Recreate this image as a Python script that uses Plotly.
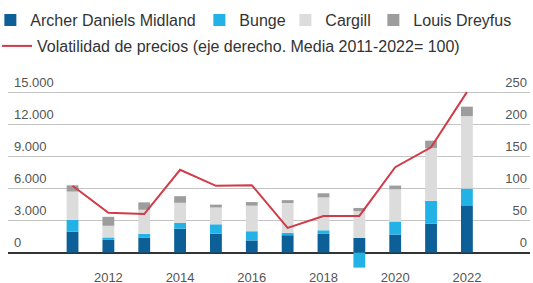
import plotly.graph_objects as go

years = list(range(2011, 2023))
adm = [1950, 1190, 1400, 2230, 1760, 1130, 1620, 1780, 1370, 1680, 2690, 4350]
bunge = [1100, 220, 350, 530, 880, 860, 220, 300, -1410, 1220, 2140, 1630]
cargill = [2650, 1090, 2250, 1890, 1570, 2390, 2790, 3070, 2500, 3010, 4950, 6770]
dreyfus = [580, 840, 690, 620, 270, 340, 270, 390, 300, 350, 680, 890]
volatility = [104, 62, 60, 129, 104, 105, 38.5, 57, 57, 133, 164, 250]

series_names = ["Archer Daniels Midland", "Bunge", "Cargill", "Louis Dreyfus"]
line_name = "Volatilidad de precios (eje derecho. Media 2011-2022= 100)"
unit_label = "Millones de euros"

left_ticks = [0, 3000, 6000, 9000, 12000, 15000]
left_tick_text = ["0", "3.000", "6.000", "9.000", "12.000", "15.000"]
right_ticks = [0, 50, 100, 150, 200, 250]
right_tick_text = ["0", "50", "100", "150", "200", "250"]
x_ticks = [2012, 2014, 2016, 2018, 2020, 2022]
x_tick_text = ["2012", "2014", "2016", "2018", "2020", "2022"]

colors = ["#0d5f97", "#22b2e6", "#dcdcdc", "#9d9d9d"]
line_color = "#d13a48"
FONT = "Liberation Sans"

ymin, ymax = -1446, 18470
ratio = 15000 / 250
top, bottom = 55.0, 14.5
ph = 283 - top - bottom


def py(px):
    return (283 - bottom - px) / ph


# one legend per entry so each can sit where the reference puts it
legend_x = [-0.0338, 0.3666, 0.5313, 0.6999]
legend_ids = ["legend", "legend2", "legend3", "legend4"]

fig = go.Figure()
for name, vals, col, lid in zip(series_names, [adm, bunge, cargill, dreyfus], colors, legend_ids):
    fig.add_trace(go.Bar(x=years, y=vals, name=name, marker=dict(color=col, line=dict(width=0)),
                         width=0.33, legend=lid, showlegend=True))

fig.add_trace(go.Scatter(x=years, y=volatility, name=line_name, mode="lines",
                         line=dict(color=line_color, width=2), yaxis="y2", legend="legend5",
                         showlegend=True))

legend_common = dict(orientation="h", xanchor="left", yanchor="middle",
                     font=dict(size=16, color="#333"), itemwidth=30, bgcolor="rgba(0,0,0,0)")
legends = {}
for lid, lx in zip(legend_ids, legend_x):
    legends[lid] = dict(legend_common, x=lx, y=py(20))
legends["legend5"] = dict(legend_common, x=-0.021, y=py(46))

fig.update_layout(
    width=533, height=283,
    showlegend=True,
    margin=dict(l=8, r=3, t=top, b=bottom, autoexpand=False),
    paper_bgcolor="white", plot_bgcolor="white",
    barmode="relative",
    font=dict(family=FONT, size=14, color="#444"),
    xaxis=dict(range=[2009.2, 2023.76], tickvals=x_ticks, ticktext=x_tick_text,
               showgrid=False, zeroline=False, showline=False, ticks="",
               tickfont=dict(size=13, color="#555")),
    yaxis=dict(range=[ymin, ymax], tickvals=left_ticks, ticktext=left_tick_text,
               showgrid=True, gridcolor="#c4c4c4", gridwidth=1,
               zeroline=True, zerolinecolor="#333", zerolinewidth=1.5,
               ticks="", ticklabelposition="inside top", ticklabelshift=-1,
               ticklabelstandoff=3,
               tickfont=dict(size=13, color="#555"), showline=False),
    yaxis2=dict(range=[ymin / ratio, ymax / ratio], tickvals=right_ticks, ticktext=right_tick_text,
                overlaying="y", side="right", showgrid=False, zeroline=False,
                ticks="", ticklabelposition="inside top", ticklabelshift=-1,
                tickfont=dict(size=13, color="#555"), showline=False),
    annotations=[dict(text=unit_label, xref="paper", yref="paper", x=0, xanchor="left",
                      y=py(4), yanchor="bottom", showarrow=False,
                      font=dict(size=12, color="#333", family=FONT))],
    **legends,
)

fig.write_html("out.html", config={"displayModeBar": False},
               post_script="document.body.style.margin='0px';")
